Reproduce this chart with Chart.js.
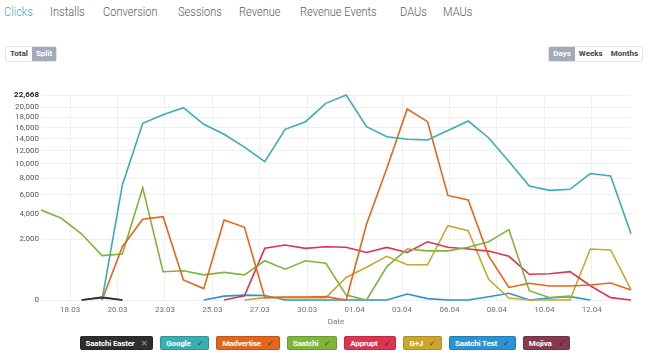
<!DOCTYPE html>
<html>
<head>
<meta charset="utf-8">
<script src="https://cdn.jsdelivr.net/npm/chart.js@4.4.1/dist/chart.umd.min.js"></script>
<style>
  body { margin: 0; width: 650px; height: 354px; background: #fff; font-family: Roboto, sans-serif; overflow: hidden; position: relative; }
  .tab { position: absolute; top: 3px; font-size: 13.5px; font-weight: 300; color: #5a5a5a; transform: scaleX(0.82); transform-origin: left center; white-space: nowrap; }
  .tab.active { color: #45acb3; }
  .btns { position: absolute; top: 46px; height: 16px; display: flex; border: 1px solid #e3e3e3; border-radius: 3px; box-sizing: border-box; font-size: 8px; font-weight: bold; }
  .btns span { padding: 0 4px; line-height: 14px; color: #444; }
  .btns span.on { background: #a3abba; color: #fff; }
  #wrap { position: absolute; left: 0; top: 85px; }
  #legend { position: absolute; top: 336px; left: 0; width: 650px; display: flex; justify-content: center; gap: 7px; }
  .badge { height: 14px; line-height: 13px; padding: 0 5px; border-radius: 2px; font-size: 8px; font-weight: bold; color: #fff; box-sizing: border-box; border: 1px solid rgba(0,0,0,0.15); white-space: nowrap; letter-spacing: -0.2px; }
  .badge i { font-style: normal; margin-left: 6px; color: rgba(0,0,0,0.45); }
</style>
</head>
<body>
<div class="tab active" style="left:4px">Clicks</div>
<div class="tab" style="left:50px">Installs</div>
<div class="tab" style="left:103px">Conversion</div>
<div class="tab" style="left:178px">Sessions</div>
<div class="tab" style="left:239px">Revenue</div>
<div class="tab" style="left:300px">Revenue Events</div>
<div class="tab" style="left:400px">DAUs</div>
<div class="tab" style="left:443px">MAUs</div>

<div class="btns" style="left:5px"><span>Total</span><span class="on">Split</span></div>
<div class="btns" style="right:7px"><span class="on">Days</span><span>Weeks</span><span>Months</span></div>

<div id="wrap"><canvas id="chart" width="650" height="245"></canvas></div>
<div id="legend"></div>

<script>
// one entry per day, 17.03 - 15.04
const dates = ['17.03', '18.03', '19.03', '20.03', '21.03', '22.03', '23.03', '24.03', '25.03', '26.03',
  '27.03', '28.03', '29.03', '30.03', '31.03', '01.04', '02.04', '03.04', '04.04', '05.04',
  '06.04', '07.04', '08.04', '09.04', '10.04', '11.04', '12.04', '13.04', '14.04', '15.04'];

const xTickLabels = ['18.03', '20.03', '23.03', '25.03', '27.03', '30.03', '01.04', '03.04', '06.04', '08.04', '10.04', '12.04'];
const yTicks = [0, 2000, 4000, 6000, 8000, 10000, 12000, 14000, 16000, 18000, 20000, 22668];

const seriesNames = ['Saatchi Easter', 'Google', 'Madvertise', 'Saatchi', 'Apprupt', 'G+J', 'Saatchi Test', 'Mojiva'];
const seriesColors = ['#2e2e2e', '#3aaeb3', '#e4661c', '#7fb53b', '#dc3451', '#cba62d', '#2b93d3', '#853a52'];
const seriesOn = [false, true, true, true, true, true, true, true];

const saatchiEaster = [null, null, 0, 3, 0, null, null, null, null, null, null, null, null, null, null,
  null, null, null, null, null, null, null, null, null, null, null, null, null, null, null];
const google = [null, null, null, 0, 7140, 16840, 18500, 19950, 16650, 14810, 12600, 10320, 15710, 17150, 20860,
  22668, 16200, 14380, 13930, 13810, 15500, 17280, 14200, 10350, 7000, 6480, 6610, 8630, 8290, 2360];
const madvertise = [null, null, null, 0, 1530, 3520, 3740, 216, 70, 3450, 2850, 3, 5, 5, 6,
  0, 3100, 9350, 19680, 17150, 5900, 5390, 1050, 85, 150, 106, 106, 121, 155, 54];
const saatchi = [4370, 3600, 2350, 1060, 1140, 6800, 430, 460, 340, 410, 340, 830, 510, 830, 730,
  13, 0, 600, 1400, 1300, 1300, 1500, 1830, 2670, 47, 3, 8, null, null, null];
const apprupt = [null, null, null, null, null, null, null, null, null, 0, 10, 1440, 1630, 1440, 1530,
  1500, 1220, 1490, 1220, 1830, 1500, 1400, 1290, 1030, 356, 370, 432, 110, 3, 0];
const gj = [null, null, null, null, null, null, null, null, null, null, 0, 3, 3, 3, 3,
  275, 580, 1030, 670, 670, 2980, 2590, 230, 2, 0, 0, 0, 1400, 1350, 58];
const saatchiTest = [null, null, null, null, null, null, null, null, 0, 8, 13, 11, 0, 0, 0,
  0, 0, 0, 19, 1, 0, 0, 6, 24, 0, 2, 6, 0, null, null];
const mojiva = [null, null, 0, 5, 0, null, null, null, null, null, null, null, null, null, null,
  null, null, null, null, null, null, null, null, null, null, null, null, null, null, null];

const seriesValues = [saatchiEaster, google, madvertise, saatchi, apprupt, gj, saatchiTest, mojiva];

// square-root value axis
class SqrtScale extends Chart.LinearScale {
  static id = 'sqrt';
  static defaults = Chart.LinearScale.defaults;

  getPixelForValue(value) {
    if (value === null || value === undefined || isNaN(value)) return NaN;
    const lo = Math.sqrt(this.min), hi = Math.sqrt(this.max);
    return this.getPixelForDecimal((Math.sqrt(Math.max(value, 0)) - lo) / (hi - lo));
  }

  getValueForPixel(pixel) {
    const lo = Math.sqrt(this.min), hi = Math.sqrt(this.max);
    const s = lo + this.getDecimalForPixel(pixel) * (hi - lo);
    return s * s;
  }
}
Chart.register(SqrtScale);

Chart.defaults.font.family = 'Roboto, sans-serif';
Chart.defaults.font.size = 8;

const firstTick = 1.43, tickStep = 2.331;

const datasets = seriesValues.map((values, k) => ({
  label: seriesNames[k],
  data: values.map((v, i) => ({ x: i, y: v })),
  borderColor: seriesColors[k],
  borderWidth: 1.6,
  pointRadius: 0,
  tension: 0,
  clip: 6
}));

new Chart(document.getElementById('chart'), {
  type: 'line',
  data: { datasets: datasets },
  options: {
    responsive: false,
    animation: false,
    layout: { padding: { top: 10, right: 19, left: 0, bottom: 0 } },
    plugins: { legend: { display: false }, tooltip: { enabled: false } },
    scales: {
      x: {
        type: 'linear',
        min: 0,
        max: dates.length - 1,
        afterBuildTicks: (scale) => {
          scale.ticks = xTickLabels.map((l, k) => ({ value: firstTick + k * tickStep }));
        },
        afterFit: (scale) => { scale.height = 30; },
        ticks: {
          color: '#707070',
          padding: 5,
          maxRotation: 0,
          autoSkip: false,
          callback: (value, index) => xTickLabels[index]
        },
        grid: { color: '#efefef', drawTicks: false },
        border: { display: false },
        title: { display: true, text: 'Date', color: '#777', font: { size: 8 }, padding: { top: 0, bottom: 3 } }
      },
      y: {
        type: 'sqrt',
        min: 0,
        max: yTicks[yTicks.length - 1],
        afterBuildTicks: (scale) => {
          scale.ticks = yTicks.map(v => ({ value: v }));
        },
        afterFit: (scale) => { scale.width = 41; },
        ticks: {
          padding: 2,
          autoSkip: false,
          color: (ctx) => ctx.tick && ctx.tick.value === yTicks[yTicks.length - 1] ? '#222' : '#555',
          font: (ctx) => ({ size: 8, weight: ctx.tick && ctx.tick.value === yTicks[yTicks.length - 1] ? 'bold' : 'normal' }),
          callback: (value) => value.toLocaleString('en-US')
        },
        grid: { color: '#efefef', drawTicks: false },
        border: { display: false }
      }
    }
  }
});

const legend = document.getElementById('legend');
seriesNames.forEach((name, k) => {
  const b = document.createElement('div');
  b.className = 'badge';
  b.style.background = seriesColors[k];
  b.innerHTML = name + '<i' + (seriesOn[k] ? '' : ' style="color:#888"') + '>' + (seriesOn[k] ? '✓' : '✕') + '</i>';
  legend.appendChild(b);
});
</script>
</body>
</html>
